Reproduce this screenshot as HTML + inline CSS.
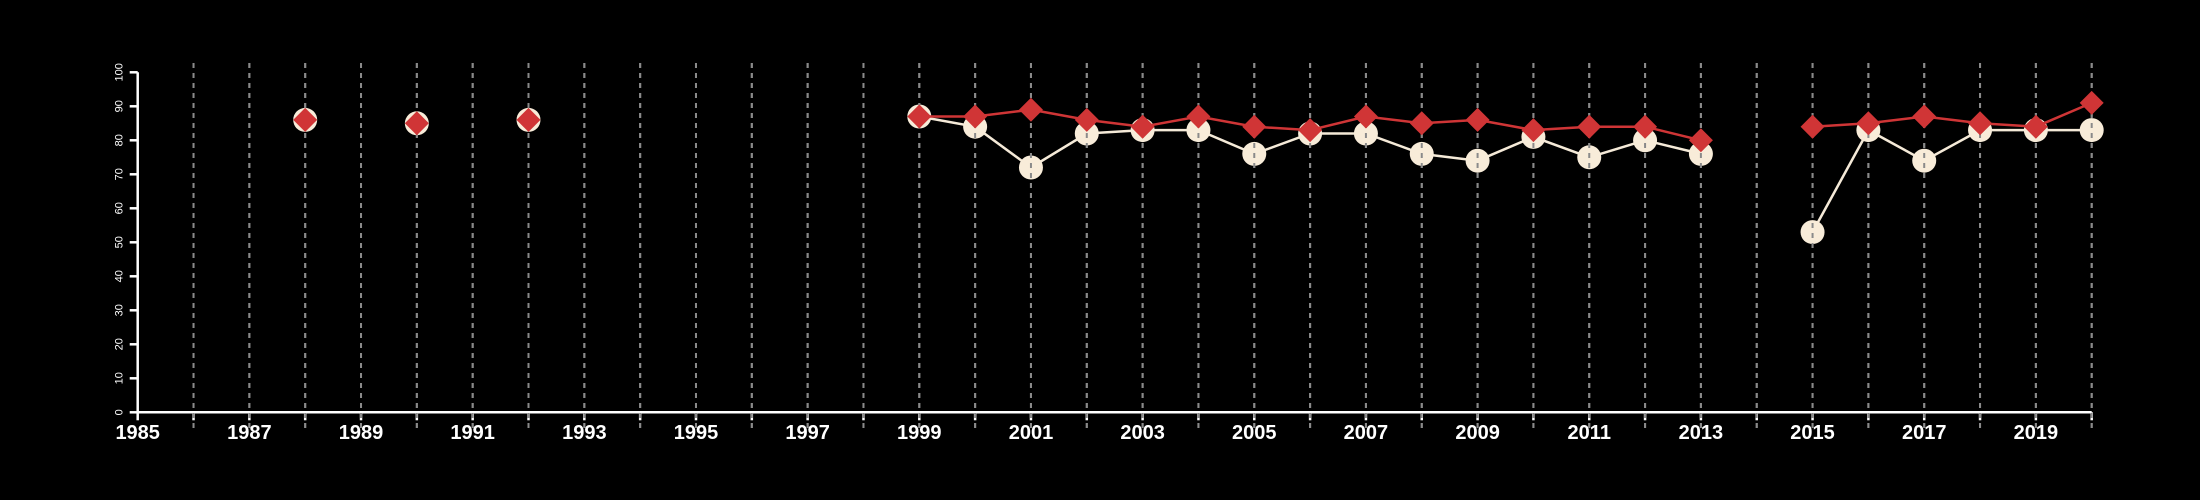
<!DOCTYPE html>
<html><head><meta charset="utf-8"><style>
html,body{margin:0;padding:0;background:#000;}
svg{display:block;}
text{font-family:"Liberation Sans",sans-serif;fill:#fff;}
</style></head><body>
<svg id="chart" width="2200" height="500" viewBox="0 0 2200 500" xmlns="http://www.w3.org/2000/svg">
<rect width="2200" height="500" fill="#000"/>
<g id="grid"></g>
<g id="axes"></g>
<g id="circles"></g>
<g id="grid2"></g>
<g id="reds"></g>
</svg>
<script>
const years = [1988,1990,1992,1999,2000,2001,2002,2003,2004,2005,2006,2007,2008,2009,2010,2011,2012,2013,2014,2015,2016,2017,2018,2019,2020];
const redValues = [86,85,86,87,87,89,86,84,87,84,83,87,85,86,83,84,84,80,null,84,85,87,85,84,91];
const whiteValues = [86,85,86,87,84,72,82,83,83,76,82,82,76,74,81,75,80,76,null,53,83,74,83,83,83];
const yTicks = [0,10,20,30,40,50,60,70,80,90,100];
const xTickLabels = ['1985','1987','1989','1991','1993','1995','1997','1999','2001','2003','2005','2007','2009','2011','2013','2015','2017','2019'];
const xMin = 1985, xMax = 2020;
const NS = 'http://www.w3.org/2000/svg';
const X0 = 137.7, X1 = 2091.7, Y0 = 412.3, Y100 = 72.3;
function xs(v){return X0 + (v - xMin) / (xMax - xMin) * (X1 - X0);}
function ys(v){return Y0 - v / 100 * (Y0 - Y100);}
function mk(tag, attrs, parent){const e=document.createElementNS(NS,tag);for(const k in attrs)e.setAttribute(k,attrs[k]);parent.appendChild(e);return e;}
const grid=document.getElementById('grid'), grid2=document.getElementById('grid2'), axes=document.getElementById('axes'), circles=document.getElementById('circles'), reds=document.getElementById('reds');
for(let y=xMin+1;y<=xMax;y++){
  for(const g of [grid,grid2]){
    const l=mk('line',{x1:xs(y),x2:xs(y),y1:63,y2:428,stroke:'#8a8a8a','stroke-width':2,'stroke-dasharray':'5,5'},g);
    
    
  }
}
// axes
let a=mk('line',{x1:X0,x2:X1,y1:Y0,y2:Y0,stroke:'#fff','stroke-width':2.5},axes);


a=mk('line',{x1:X0,x2:X0,y1:Y0,y2:Y100,stroke:'#fff','stroke-width':2.5},axes);


for(let y=xMin;y<=xMax;y++){
  const t=mk('line',{x1:xs(y),x2:xs(y),y1:Y0,y2:Y0+8,stroke:'#fff','stroke-width':2.5},axes);
  
  
}
for(const lab of xTickLabels){
  const t=mk('text',{x:xs(+lab),y:439,'text-anchor':'middle','font-size':20,'font-weight':'bold'},axes);
  t.textContent=lab;
  
  
}
for(const v of yTicks){
  const t=mk('line',{x1:X0,x2:X0-8,y1:ys(v),y2:ys(v),stroke:'#fff','stroke-width':2.5},axes);
  
  
  const tx=mk('text',{x:0,y:0,'text-anchor':'middle','font-size':11,transform:`translate(${X0-15},${ys(v)}) rotate(-90)`},axes);
  tx.textContent=v;
  
  
}
function paths(vals){
  const segs=[];let cur=[];
  years.forEach((y,i)=>{const v=vals[i];if(v==null){if(cur.length)segs.push(cur);cur=[];}else if(y>=1999)cur.push([xs(y),ys(v)]);});
  if(cur.length)segs.push(cur);return segs;
}
for(const s of paths(whiteValues)){
  const p=mk('polyline',{points:s.map(p=>p.join(',')).join(' '),fill:'none',stroke:'#f5ead8','stroke-width':2.5},circles);
  
  
}
years.forEach((y,i)=>{const v=whiteValues[i];if(v==null)return;
  const c=mk('circle',{cx:xs(y),cy:ys(v),r:12,fill:'#f8ecd9'},circles);
  
  
});
for(const s of paths(redValues)){
  const p=mk('polyline',{points:s.map(p=>p.join(',')).join(' '),fill:'none',stroke:'#cf3536','stroke-width':2.5},reds);
  
  
}
years.forEach((y,i)=>{const v=redValues[i];if(v==null)return;
  const cx=xs(y),cy=ys(v),r=12;
  const d=mk('polygon',{points:`${cx},${cy-r} ${cx+r},${cy} ${cx},${cy+r} ${cx-r},${cy}`,fill:'#d03536'},reds);
  
  
});
</script>
</body></html>
